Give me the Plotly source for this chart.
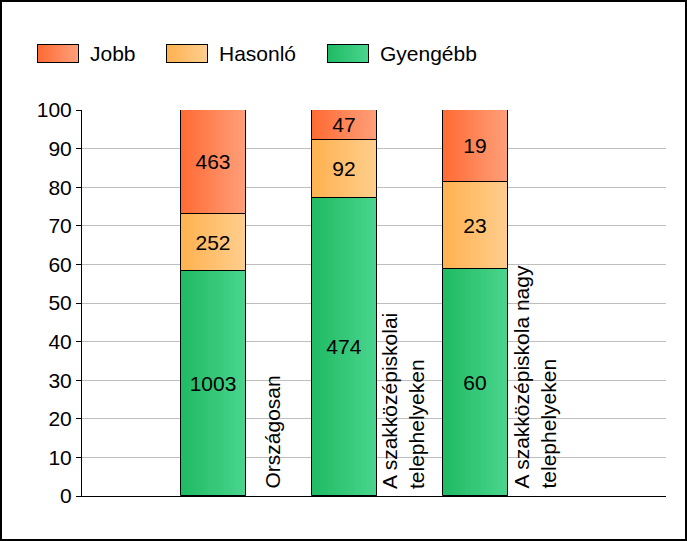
import base64
import plotly.graph_objects as go

# ---------------- data ----------------
categories = ["Országosan",
              "A szakközépiskolai<br>telephelyeken",
              "A szakközépiskola nagy<br>telephelyeken"]
series_names = ["Gyengébb", "Hasonló", "Jobb"]
gyengebb = [1003, 474, 60]
hasonlo = [252, 92, 23]
jobb = [463, 47, 19]
y_ticks = [0, 10, 20, 30, 40, 50, 60, 70, 80, 90, 100]
legend_order = ["Jobb", "Hasonló", "Gyengébb"]

# ---------------- style ----------------
FONT = "Liberation Sans, Arial, sans-serif"
FS = 21
grad = {
    "Gyengébb": ("#1FBA63", "#4AD58E"),
    "Hasonló": ("#FFB14F", "#FFCE8E"),
    "Jobb": ("#FF6A33", "#FFA07C"),
}
W, H = 687, 541
L, R, T, B = 82, 666, 110, 496
PW, PH = R - L, B - T
BW = 0.5
NSLICE = 24


def px(x):
    return (x - L) / PW


def py(y):
    return (B - y) / PH


def mix(c1, c2, t):
    a = [int(c1[i:i + 2], 16) for i in (1, 3, 5)]
    b = [int(c2[i:i + 2], 16) for i in (1, 3, 5)]
    return "rgb(%d,%d,%d)" % tuple(round(a[i] + (b[i] - a[i]) * t) for i in range(3))


xs = list(range(len(categories)))
values = {"Gyengébb": gyengebb, "Hasonló": hasonlo, "Jobb": jobb}
totals = [sum(values[s][i] for s in series_names) for i in xs]

fig = go.Figure()
base = [0.0] * len(xs)
step = BW / NSLICE
for s in series_names:
    pct = [values[s][i] / totals[i] * 100 for i in xs]
    c1, c2 = grad[s]
    for k in range(NSLICE):
        off = -BW / 2 + k * step
        wd = step * 1.6 if k < NSLICE - 1 else step
        fig.add_trace(go.Bar(
            x=xs, y=pct, base=base, offset=off, width=wd,
            marker=dict(color=mix(c1, c2, (k + 0.5) / NSLICE), line=dict(width=0)),
            showlegend=False, hoverinfo="skip"))
    fig.add_trace(go.Bar(
        x=xs, y=pct, base=base, width=BW, name=s,
        marker=dict(color="rgba(0,0,0,0)", line=dict(color="black", width=1)),
        text=[str(v) for v in values[s]], textposition="inside",
        insidetextanchor="middle", textangle=0, constraintext="none",
        textfont=dict(family=FONT, size=FS, color="black"),
        showlegend=False))
    base = [base[i] + pct[i] for i in xs]

annotations = []
for i, c in enumerate(categories):
    annotations.append(dict(
        x=xs[i], y=0, xref="x", yref="y", text=c, showarrow=False,
        textangle=-90, xanchor="center", yanchor="bottom", align="left",
        xshift=58.5, yshift=5, font=dict(family=FONT, size=FS, color="black")))

# legend (manual, gradient swatches)
images = []
box_x = {"Jobb": 37, "Hasonló": 166, "Gyengébb": 327}
for s in legend_order:
    c1, c2 = grad[s]
    svg = ("<svg xmlns='http://www.w3.org/2000/svg' width='42' height='19'>"
           "<defs><linearGradient id='g'><stop offset='0' stop-color='%s'/>"
           "<stop offset='1' stop-color='%s'/></linearGradient></defs>"
           "<rect x='0.5' y='0.5' width='41' height='18' fill='url(#g)' "
           "stroke='black' stroke-width='1'/></svg>") % (c1, c2)
    uri = "data:image/svg+xml;base64," + base64.b64encode(svg.encode()).decode()
    x0 = box_x[s]
    images.append(dict(source=uri, xref="paper", yref="paper",
                       x=px(x0), y=py(44), sizex=42 / PW, sizey=19 / PH,
                       xanchor="left", yanchor="top", sizing="stretch", layer="above"))
    annotations.append(dict(x=px(x0 + 51), y=py(54), xref="paper", yref="paper",
                            text=s, showarrow=False, xanchor="left", yanchor="middle",
                            font=dict(family=FONT, size=FS, color="black")))

fig.update_layout(
    width=W, height=H,
    margin=dict(l=L, r=W - R, t=T, b=H - B, pad=0),
    paper_bgcolor="white", plot_bgcolor="white",
    barmode="overlay", bargap=0,
    showlegend=False,
    font=dict(family=FONT, size=FS, color="black"),
    xaxis=dict(range=[-(213.5 - L) / 131, 2 + (R - 475.5) / 131],
               showticklabels=False, ticks="", showgrid=False, zeroline=False,
               showline=True, linecolor="black", linewidth=1, fixedrange=True),
    yaxis=dict(range=[0, 100], tickvals=y_ticks, ticks="outside", ticklen=5,
               tickcolor="black", showline=True, linecolor="black", linewidth=1,
               showgrid=True, gridcolor="#BEBEBE", gridwidth=1, zeroline=False,
               tickfont=dict(family=FONT, size=FS, color="black"), fixedrange=True),
    annotations=annotations,
    images=images,
    shapes=[dict(type="rect", xref="paper", yref="paper",
                 x0=px(1), x1=px(686), y0=py(540), y1=py(1),
                 line=dict(color="black", width=2), fillcolor="rgba(0,0,0,0)",
                 layer="below")],
)

fig.write_html("out.html",
               config={"displayModeBar": False},
               post_script="document.body.style.margin='0';"
                           "document.body.style.overflow='hidden';")
